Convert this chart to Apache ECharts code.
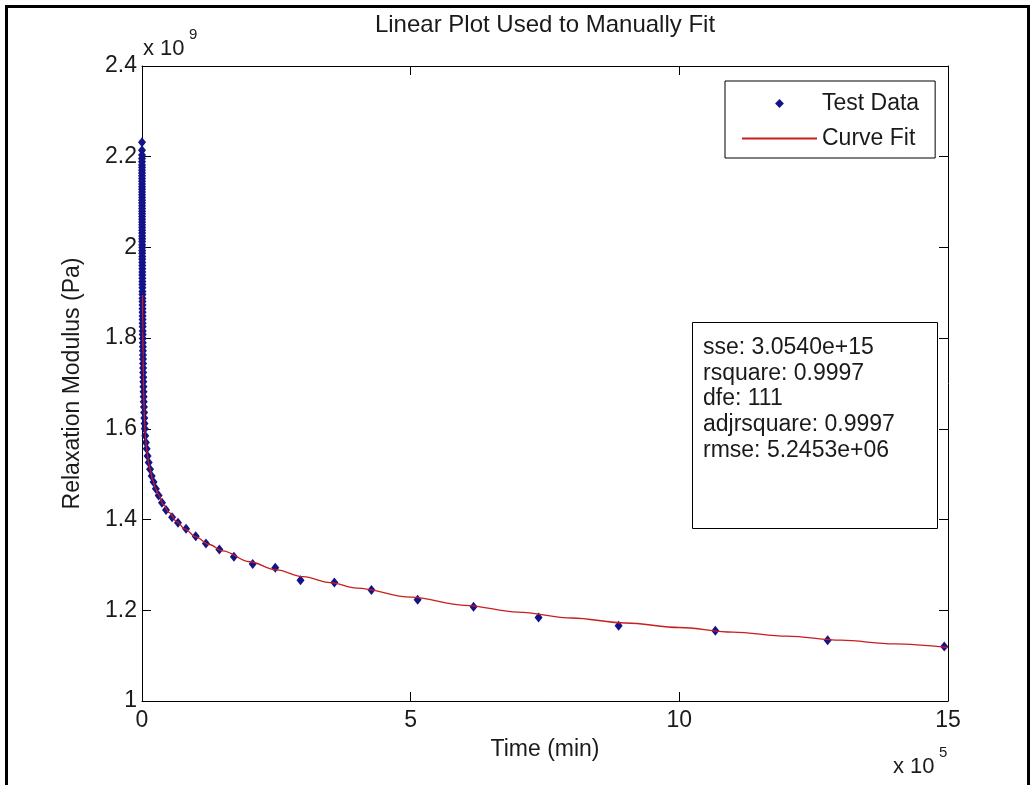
<!DOCTYPE html>
<html>
<head>
<meta charset="utf-8">
<script src="https://cdn.jsdelivr.net/npm/echarts@6/dist/echarts.min.js"></script>
<style>
html,body{margin:0;padding:0;background:#ffffff;}
#chart{width:1034px;height:785px;}
</style>
</head>
<body>
<div id="chart"></div>
<script>
// ---- Data (time in units of 1e5 min, modulus in units of 1e9 Pa) ----
const xTickValues = [0, 5, 10, 15];
const yTickValues = [1, 1.2, 1.4, 1.6, 1.8, 2, 2.2, 2.4];

const seriesNames = ['Test Data', 'Curve Fit'];

// Test data: sparse points along the curve, then the dense column near t = 0
const testTime = [
  14.93, 12.76, 10.67, 8.87, 7.38, 6.17, 5.13, 4.27, 3.58, 2.95,
  2.48, 2.06, 1.71, 1.44, 1.19, 1.00, 0.82, 0.67, 0.56, 0.447,
  0.372, 0.31, 0.258, 0.215, 0.18, 0.15, 0.125, 0.104, 0.087, 0.072,
  0.06,
  0.052, 0.047, 0.043, 0.039, 0.036, 0.033, 0.031, 0.029, 0.027, 0.025,
  0.024, 0.022, 0.021, 0.020, 0.019, 0.018, 0.017, 0.016, 0.0152, 0.0145,
  0.0138, 0.0131, 0.0125, 0.0119, 0.0113, 0.0108, 0.0103, 0.0098, 0.0093, 0.0089,
  0.0085, 0.0081, 0.0077, 0.0073, 0.0070, 0.0066, 0.0063, 0.0060, 0.0057, 0.0054,
  0.0051, 0.0049, 0.0046, 0.0044, 0.0042, 0.0040, 0.0038, 0.0036, 0.0034, 0.0032,
  0.0030, 0.0029, 0.0027, 0.0026, 0.0024, 0.0023, 0.0022, 0.0021, 0.0020, 0.0019,
  0.0018, 0.0017, 0.0016, 0.0015, 0.0014, 0.0013, 0.0012, 0.0011, 0.0010, 0.0009,
  0.0008, 0.0007, 0.0006, 0.0005, 0.0004, 0.0003, 0.0002, 0.00015, 0.0001, 0.00005,
  0.00002, 0.00001
];
const testModulus = [
  1.120, 1.134, 1.155, 1.166, 1.184, 1.208, 1.223, 1.245, 1.261, 1.266,
  1.294, 1.302, 1.318, 1.334, 1.347, 1.363, 1.380, 1.393, 1.405, 1.421,
  1.437, 1.453, 1.468, 1.483, 1.496, 1.511, 1.526, 1.540, 1.556, 1.570,
  1.585,
  1.600, 1.612, 1.624, 1.636, 1.648, 1.660, 1.671, 1.682, 1.693, 1.704,
  1.714, 1.724, 1.734, 1.744, 1.754, 1.763, 1.772, 1.781, 1.790, 1.799,
  1.808, 1.816, 1.825, 1.833, 1.841, 1.849, 1.857, 1.865, 1.873, 1.881,
  1.888, 1.896, 1.903, 1.911, 1.918, 1.925, 1.932, 1.939, 1.946, 1.953,
  1.960, 1.967, 1.974, 1.980, 1.987, 1.993, 2.000, 2.006, 2.013, 2.019,
  2.025, 2.032, 2.038, 2.044, 2.050, 2.056, 2.062, 2.068, 2.074, 2.080,
  2.086, 2.092, 2.098, 2.104, 2.110, 2.116, 2.122, 2.128, 2.134, 2.140,
  2.146, 2.152, 2.158, 2.164, 2.170, 2.176, 2.182, 2.189, 2.196, 2.204,
  2.214, 2.232
];

// Curve fit
const fitTime = [
  0.010, 0.015, 0.020, 0.025, 0.030, 0.040, 0.050, 0.060, 0.070, 0.085,
  0.100, 0.125, 0.150, 0.200, 0.250, 0.300, 0.400, 0.500, 0.650, 0.800,
  1.000, 1.250, 1.500, 2.000, 2.500, 3.000, 3.500, 4.000, 5.000, 6.000,
  7.000, 8.000, 9.000, 10.00, 11.00, 12.00, 13.00, 14.00, 15.00
];
const fitModulus = [
  1.895, 1.815, 1.760, 1.718, 1.686, 1.640, 1.610, 1.588, 1.573, 1.556,
  1.543, 1.524, 1.510, 1.487, 1.469, 1.456, 1.433, 1.416, 1.395, 1.379,
  1.362, 1.345, 1.331, 1.307, 1.289, 1.274, 1.261, 1.249, 1.229, 1.211,
  1.196, 1.183, 1.172, 1.162, 1.152, 1.143, 1.134, 1.126, 1.118
];

const statsLines = [
  'sse: 3.0540e+15',
  'rsquare: 0.9997',
  'dfe: 111',
  'adjrsquare: 0.9997',
  'rmse: 5.2453e+06'
];

const titleText = 'Linear Plot Used to Manually Fit';
const xName = 'Time (min)';
const yName = 'Relaxation Modulus (Pa)';
const xExp = '5';
const yExp = '9';

// ---- Build chart ----
const FONT = "'Liberation Sans', Arial, Helvetica, sans-serif";
const TXT = '#1a1a1a';

const testPoints = testTime.map((t, i) => [t, testModulus[i]]);
const fitPoints = fitTime.map((t, i) => [t, fitModulus[i]]);

const xMin = xTickValues[0], xMax = xTickValues[xTickValues.length - 1], xInt = xTickValues[1] - xTickValues[0];
const yMin = yTickValues[0], yMax = yTickValues[yTickValues.length - 1], yInt = +(yTickValues[1] - yTickValues[0]).toFixed(6);

function axisBase(extra) {
  return Object.assign({
    type: 'value',
    splitLine: { show: false },
    axisLine: { show: true, onZero: false, lineStyle: { color: '#000', width: 1 } },
    axisTick: { show: true, inside: true, length: 9, lineStyle: { color: '#000', width: 1 } },
  }, extra);
}

const chart = echarts.init(document.getElementById('chart'), null, { renderer: 'canvas' });
chart.setOption({
  animation: false,
  backgroundColor: '#ffffff',
  title: {
    text: titleText,
    left: 545, top: 13, textAlign: 'center', padding: 0,
    textStyle: { fontSize: 24, fontWeight: 'normal', color: TXT, fontFamily: FONT }
  },
  grid: { left: 142, right: 86, top: 66, bottom: 84, containLabel: false, outerBoundsMode: 'none' },
  xAxis: [
    axisBase({
      position: 'bottom', min: xMin, max: xMax, interval: xInt,
      axisLabel: { fontSize: 23, color: TXT, fontFamily: FONT, margin: 8 },
      name: xName, nameLocation: 'middle', nameGap: 37,
      nameTextStyle: { fontSize: 23, color: TXT, fontFamily: FONT }
    }),
    axisBase({
      position: 'top', min: xMin, max: xMax, interval: xInt,
      axisLabel: { show: false }
    })
  ],
  yAxis: [
    axisBase({
      position: 'left', min: yMin, max: yMax, interval: yInt,
      axisLabel: { fontSize: 23, color: TXT, fontFamily: FONT, margin: 5 },
      name: yName, nameLocation: 'middle', nameGap: 58, nameRotate: 90,
      nameTextStyle: { fontSize: 23, color: TXT, fontFamily: FONT }
    }),
    axisBase({
      position: 'right', min: yMin, max: yMax, interval: yInt,
      axisLabel: { show: false }
    })
  ],
  legend: {
    orient: 'vertical',
    left: 725, top: 81,
    padding: [11, 16, 8, 16],
    itemWidth: 75, itemHeight: 11, itemGap: 12,
    borderColor: '#000', borderWidth: 1, borderRadius: 0,
    backgroundColor: '#ffffff',
    selectedMode: false,
    textStyle: { fontSize: 23, color: TXT, fontFamily: FONT },
    data: [
      { name: seriesNames[0] },
      { name: seriesNames[1], itemStyle: { opacity: 0 } }
    ]
  },
  series: [
    {
      name: seriesNames[0],
      type: 'line',
      data: testPoints,
      showSymbol: true,
      showAllSymbol: true,
      symbol: 'diamond',
      symbolSize: [8, 10],
      itemStyle: { color: '#13138a' },
      lineStyle: { width: 0, opacity: 0 },
      emphasis: { disabled: true },
      z: 2
    },
    {
      name: seriesNames[1],
      type: 'line',
      data: fitPoints,
      showSymbol: false,
      symbol: 'none',
      smooth: 0.35,
      smoothMonotone: 'x',
      itemStyle: { color: '#c81e1e' },
      lineStyle: { color: '#c81e1e', width: 1.3 },
      emphasis: { disabled: true },
      z: 3
    }
  ],
  graphic: [
    {
      type: 'rect', z: 100,
      shape: { x: 692.5, y: 322.5, width: 245, height: 206 },
      style: { fill: '#ffffff', stroke: '#000', lineWidth: 1 }
    },
    {
      type: 'text', z: 101, x: 703, y: 335,
      style: { text: statsLines.join('\n'), fontSize: 23, lineHeight: 25.6, fill: TXT, fontFamily: FONT }
    },
    {
      type: 'text', z: 101, x: 143, y: 49,
      style: { text: 'x 10', fontSize: 22, fill: TXT, fontFamily: FONT, verticalAlign: 'middle' }
    },
    {
      type: 'text', z: 101, x: 189, y: 35,
      style: { text: yExp, fontSize: 15, fill: TXT, fontFamily: FONT, verticalAlign: 'middle' }
    },
    {
      type: 'text', z: 101, x: 893, y: 767,
      style: { text: 'x 10', fontSize: 22, fill: TXT, fontFamily: FONT, verticalAlign: 'middle' }
    },
    {
      type: 'text', z: 101, x: 939, y: 753,
      style: { text: xExp, fontSize: 15, fill: TXT, fontFamily: FONT, verticalAlign: 'middle' }
    },
    {
      type: 'rect', z: 102,
      shape: { x: 6.5, y: 6.5, width: 1022, height: 800 },
      style: { fill: 'none', stroke: '#000', lineWidth: 3 }
    }
  ]
});
</script>
</body>
</html>
